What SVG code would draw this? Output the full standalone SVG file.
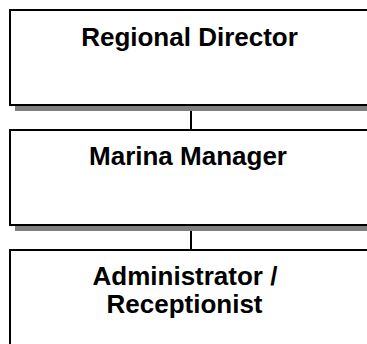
<svg xmlns="http://www.w3.org/2000/svg" width="367" height="344" viewBox="0 0 367 344">
  <style>
    .box { fill: #ffffff; stroke: #000000; stroke-width: 2; }
    .shadow { fill: #808080; stroke: none; }
    .link { stroke: #000000; stroke-width: 2; fill: none; }
    .label { font-family: "Liberation Sans", Arial, sans-serif; font-weight: bold; font-size: 26px; fill: #000000; text-anchor: middle; }
  </style>
  <rect width="367" height="344" fill="#ffffff"/>

  <!-- reporting lines -->
  <g id="connectors">
    <line class="link" x1="191" y1="111" x2="191" y2="130"/>
    <line class="link" x1="191" y1="231" x2="191" y2="250"/>
  </g>

  <g id="regional-director">
    <rect class="shadow" x="15" y="15" width="370" height="96"/>
    <rect class="box" x="10" y="10" width="370" height="95"/>
    <text class="label" x="189.5" y="46">Regional Director</text>
  </g>

  <g id="marina-manager">
    <rect class="shadow" x="15" y="135" width="370" height="96"/>
    <rect class="box" x="10" y="130" width="370" height="95"/>
    <text class="label" x="188" y="165">Marina Manager</text>
  </g>

  <g id="administrator-receptionist">
    <rect class="shadow" x="15" y="255" width="370" height="96"/>
    <rect class="box" x="10" y="250" width="370" height="95"/>
    <text class="label" x="185" y="285">Administrator /</text>
    <text class="label" x="184.5" y="313">Receptionist</text>
  </g>
</svg>
